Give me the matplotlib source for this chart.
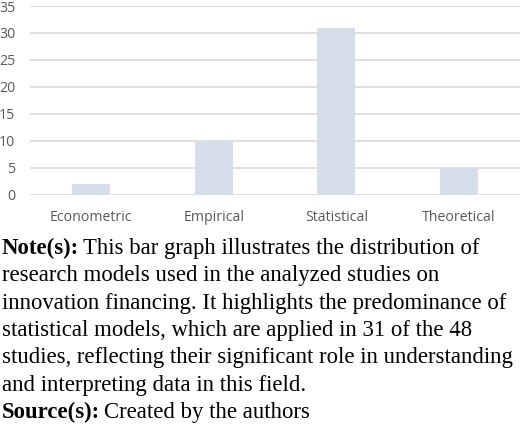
import matplotlib
matplotlib.use("Agg")
import matplotlib.pyplot as plt

categories = ["Econometric", "Empirical", "Statistical", "Theoretical"]
values = [2, 10, 31, 5]
yticks = [0, 5, 10, 15, 20, 25, 30, 35]

note_lines = [
    "This bar graph illustrates the distribution of",
    "research models used in the analyzed studies on",
    "innovation financing. It highlights the predominance of",
    "statistical models, which are applied in 31 of the 48",
    "studies, reflecting their significant role in understanding",
    "and interpreting data in this field.",
]
source_text = "Created by the authors"

W, H = 520, 426
fig = plt.figure(figsize=(W / 100, H / 100), dpi=100)
ax = fig.add_axes([30 / W, 1 - 194.5 / H, 490 / W, 188.5 / H])

x = range(len(categories))
ax.bar(x, values, width=0.31, color="#D6DEEB", zorder=3)
ax.set_xlim(-0.5, len(categories) - 0.5)
ax.set_ylim(0, 35)
ax.set_yticks(yticks)
ax.set_xticks(list(x))
ax.set_xticklabels(categories)
ax.grid(axis="y", color="#D9D9D9", linewidth=1.2, zorder=0)
for s in ax.spines.values():
    s.set_visible(False)
ax.tick_params(length=0, labelsize=10.2, labelcolor="#595959")
for lab in ax.get_xticklabels() + ax.get_yticklabels():
    lab.set_family("Open Sans")
ax.tick_params(axis="x", pad=11)
ax.tick_params(axis="y", pad=10.5)

fs = 16.4
fam = "Liberation Serif"
lh = 27.3
y0 = 254
fig.canvas.draw()
r = fig.canvas.get_renderer()

def px(yp):
    return 1 - yp / H

t = fig.text(2 / W, px(y0), "Note(s):", fontsize=fs, family=fam, weight="bold", va="baseline")
bb = t.get_window_extent(r)
fig.text((bb.x1 + 4) / W, px(y0), note_lines[0], fontsize=fs, family=fam, va="baseline")
for i, line in enumerate(note_lines[1:], start=1):
    fig.text(2 / W, px(y0 + i * lh), line, fontsize=fs, family=fam, va="baseline")
ys = y0 + len(note_lines) * lh
t2 = fig.text(2 / W, px(ys), "Source(s):", fontsize=fs, family=fam, weight="bold", va="baseline")
bb2 = t2.get_window_extent(r)
fig.text((bb2.x1 + 4) / W, px(ys), source_text, fontsize=fs, family=fam, va="baseline")

fig.savefig("out.png", dpi=100)
